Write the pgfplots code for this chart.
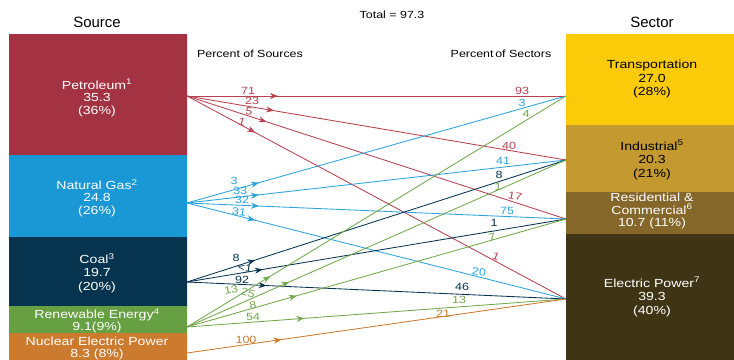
\documentclass[border=0pt]{standalone}
\usepackage{pgfplots}
\pgfplotsset{compat=1.18}
\usepackage{fontspec}
\setmainfont{Liberation Sans}
\newfontfamily\wide[FakeStretch=1.2]{Liberation Sans}
\usetikzlibrary{decorations.markings,arrows.meta}
\definecolor{cPet}{HTML}{A33343}
\definecolor{cGas}{HTML}{1A98D5}
\definecolor{cCoal}{HTML}{06344F}
\definecolor{cRen}{HTML}{67A043}
\definecolor{cNuc}{HTML}{CC7A2E}
\definecolor{cTra}{HTML}{FBCB09}
\definecolor{cInd}{HTML}{C4992F}
\definecolor{cRes}{HTML}{85672A}
\definecolor{cEle}{HTML}{3F3515}
\definecolor{lPet}{HTML}{B8404F}
\definecolor{lGas}{HTML}{2AA3DC}
\definecolor{lRen}{HTML}{72A84B}
\tikzset{arr/.style={postaction={decorate},decoration={markings,mark=at position #1 with {\arrow{Stealth[length=8bp,width=6bp]}}}}}
\begin{document}
\begin{tikzpicture}
\begin{axis}[scale only axis, width=734bp, height=360bp, xmin=0, xmax=734, ymin=0, ymax=360, y dir=reverse, hide axis, clip=false,
  every axis plot/.append style={line width=0.85bp}]
% boxes
\addplot[fill=cPet, draw=none] coordinates {(9,34) (187,34) (187,155) (9,155) (9,34)};
\addplot[fill=cGas, draw=none] coordinates {(9,155) (187,155) (187,237) (9,237) (9,155)};
\addplot[fill=cCoal, draw=none] coordinates {(9,237) (187,237) (187,306) (9,306) (9,237)};
\addplot[fill=cRen, draw=none] coordinates {(9,306) (187,306) (187,333) (9,333) (9,306)};
\addplot[fill=cNuc, draw=none] coordinates {(9,333) (187,333) (187,360) (9,360) (9,333)};
\addplot[fill=cTra, draw=none] coordinates {(566,34) (734,34) (734,125) (566,125) (566,34)};
\addplot[fill=cInd, draw=none] coordinates {(566,125) (734,125) (734,192) (566,192) (566,125)};
\addplot[fill=cRes, draw=none] coordinates {(566,192) (734,192) (734,234) (566,234) (566,192)};
\addplot[fill=cEle, draw=none] coordinates {(566,234) (734,234) (734,360) (566,360) (566,234)};
% petroleum flows
\addplot[lPet, arr=0.24] coordinates {(187,96) (566,96)};
\addplot[lPet, arr=0.23] coordinates {(187,96) (566,160)};
\addplot[lPet, arr=0.21] coordinates {(187,96) (566,219)};
\addplot[lPet, arr=0.18] coordinates {(187,96) (566,299)};
% natural gas flows
\addplot[lGas, arr=0.19] coordinates {(187,203) (566,96)};
\addplot[lGas, arr=0.19] coordinates {(187,203) (566,160)};
\addplot[lGas, arr=0.19] coordinates {(187,203) (566,219)};
\addplot[lGas, arr=0.18] coordinates {(187,203) (566,299)};
% coal flows
\addplot[cCoal, arr=0.18] coordinates {(187,282) (566,160)};
\addplot[cCoal, arr=0.20] coordinates {(187,282) (566,219)};
\addplot[cCoal, arr=0.21] coordinates {(187,282) (566,299)};
% renewable flows
\addplot[lRen, arr=0.22] coordinates {(187,327) (566,96)};
\addplot[lRen, arr=0.27] coordinates {(187,327) (566,160)};
\addplot[lRen, arr=0.29] coordinates {(187,327) (566,219)};
\addplot[lRen, arr=0.31] coordinates {(187,327) (566,299)};
% nuclear
\addplot[cNuc, arr=0.25] coordinates {(187,353) (566,299)};
% titles
\node[font=\fontsize{15}{17}\selectfont] at (axis cs:97,22) {Source};
\node[font=\fontsize{15}{17}\selectfont] at (axis cs:652,22) {Sector};
\node[font=\wide\fontsize{10.4}{11}\selectfont] at (axis cs:392,15) {Total = 97.3};
\node[font=\wide\fontsize{10.4}{11}\selectfont] at (axis cs:250,54) {Percent of Sources};
\node[font=\wide\fontsize{10.4}{11}\selectfont] at (axis cs:501,54) {Percent\,of Sectors};
% box labels
\begin{scope}[every node/.append style={align=center}]
\node[white, font=\wide\fontsize{11.8}{12.5}\selectfont] at (axis cs:97,98) {Petroleum\textsuperscript{1}\\35.3\\(36\%)};
\node[white, font=\wide\fontsize{11.8}{12.5}\selectfont] at (axis cs:97,198) {Natural Gas\textsuperscript{2}\\24.8\\(26\%)};
\node[white, font=\wide\fontsize{11.8}{13.5}\selectfont] at (axis cs:97,273) {Coal\textsuperscript{3}\\19.7\\(20\%)};
\node[white, font=\wide\fontsize{11.8}{12}\selectfont] at (axis cs:97,321) {Renewable Energy\textsuperscript{4}\\9.1(9\%)};
\node[white, font=\wide\fontsize{11.8}{12}\selectfont] at (axis cs:97,348) {Nuclear Electric Power\\8.3 (8\%)};
\node[black, font=\wide\fontsize{11.8}{13.5}\selectfont] at (axis cs:652,79) {Transportation\\27.0\\(28\%)};
\node[black, font=\wide\fontsize{11.8}{13.5}\selectfont] at (axis cs:652,160) {Industrial\textsuperscript{5}\\20.3\\(21\%)};
\node[white, font=\wide\fontsize{11.8}{13}\selectfont] at (axis cs:652,211) {Residential \&\\Commercial\textsuperscript{6}\\10.7 (11\%)};
\node[white, font=\wide\fontsize{11.8}{13.5}\selectfont] at (axis cs:652,297) {Electric Power\textsuperscript{7}\\39.3\\(40\%)};
\end{scope}
% source-side percent labels
\begin{scope}[font=\wide\fontsize{10.5}{11}\selectfont, every node/.append style={inner sep=0.5bp}]
\node[lPet] at (axis cs:248,91) {71};
\node[lPet] at (axis cs:252,101) {23};
\node[lPet, rotate=-8] at (axis cs:249,111) {5};
\node[lPet, rotate=-15] at (axis cs:242,122) {1};
\node[lGas] at (axis cs:234,181) {3};
\node[lGas] at (axis cs:240,191) {33};
\node[lGas] at (axis cs:242,200) {32};
\node[lGas, rotate=-8] at (axis cs:239,212) {31};
\node[cCoal] at (axis cs:236,258) {8};
\node[cCoal, rotate=-8] at (axis cs:245,268) {<1};
\node[cCoal] at (axis cs:242,280) {92};
\node[lRen, rotate=10] at (axis cs:231,290) {13};
\node[lRen, rotate=-15] at (axis cs:248,293) {25};
\node[lRen, rotate=10] at (axis cs:253,305) {8};
\node[lRen] at (axis cs:253,317) {54};
\node[cNuc] at (axis cs:246,340) {100};
% sector-side labels
\node[lPet] at (axis cs:522,91) {93};
\node[lGas] at (axis cs:522,103) {3};
\node[lRen] at (axis cs:526,114) {4};
\node[lPet] at (axis cs:509,146) {40};
\node[lGas] at (axis cs:503,161) {41};
\node[cCoal] at (axis cs:499,175) {8};
\node[lRen] at (axis cs:498,187) {1};
\node[lPet, rotate=-12] at (axis cs:515,196) {17};
\node[lGas] at (axis cs:507,211) {75};
\node[cCoal] at (axis cs:494,223) {1};
\node[lRen, rotate=12] at (axis cs:492,237) {7};
\node[lPet, rotate=-22] at (axis cs:496,256) {1};
\node[lGas, rotate=-8] at (axis cs:479,272) {20};
\node[cCoal] at (axis cs:462,287) {46};
\node[lRen] at (axis cs:459,300) {13};
\node[cNuc] at (axis cs:443,314) {21};
\end{scope}
\end{axis}
\pgfresetboundingbox
\path (current axis.south west) rectangle (current axis.north east);
\end{tikzpicture}
\end{document}
